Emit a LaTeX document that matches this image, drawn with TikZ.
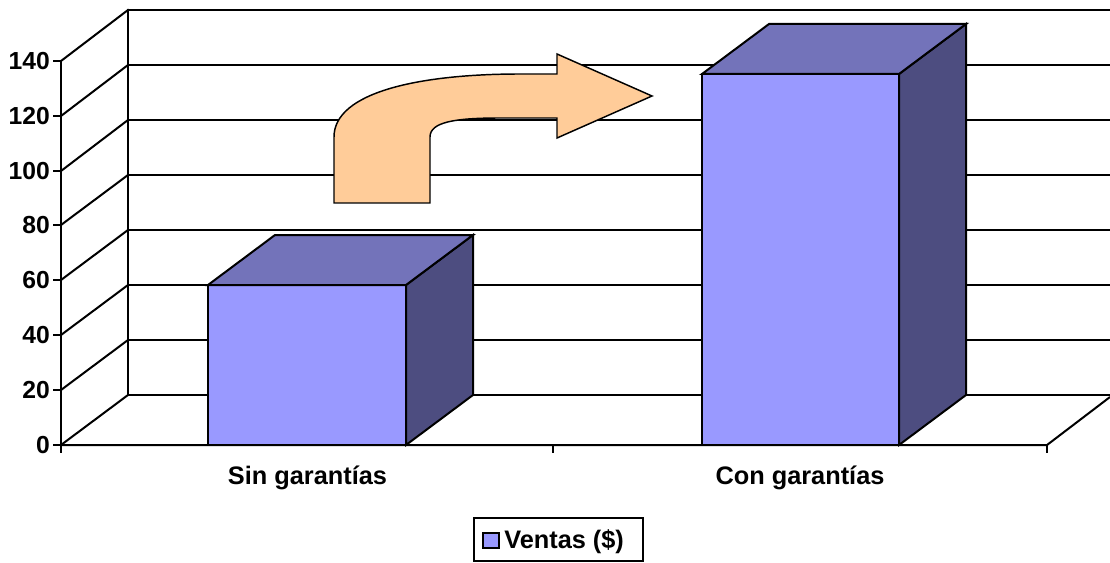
\documentclass[tikz,border=0pt]{standalone}
\usepackage{fontspec}
\setmainfont{Liberation Sans}
\definecolor{barfront}{HTML}{9999FF}
\definecolor{bartop}{HTML}{7373BA}
\definecolor{barside}{HTML}{4D4D80}
\definecolor{arrowfill}{HTML}{FFCC99}
\tikzset{
  grid/.style={line width=1.5pt, line cap=rect},
  axisline/.style={line width=1.5pt},
  barface/.style={draw=black, line width=1.5pt, line join=miter},
  lbl/.style={font=\fontsize{18.5}{20}\selectfont\bfseries, inner sep=0pt},
  catlbl/.style={font=\fontsize{19}{21}\selectfont\bfseries, inner sep=0pt},
}
\begin{document}
\begin{tikzpicture}[x=0.75pt,y=-0.75pt]
\useasboundingbox (0,0) rectangle (1110,563);
% back wall horizontal gridlines and left wall diagonals
\foreach \k/\yf/\yb in {0/445/395,1/390/340,2/335/285,3/280/230,4/225/175,5/171/120,6/116/65,7/61/10}{
  \draw[grid] (128,\yb) -- (1110,\yb);
  \draw[grid] (61,\yf) -- (128,\yb);
  \draw[axisline] (53,\yf) -- (61,\yf);
}
% back wall vertical
\draw[grid] (128,10) -- (128,395);
% left axis
\draw[axisline] (61,61) -- (61,445);
% floor front edge and right diagonal
\draw[axisline] (61,445) -- (1047,445) -- (1110,397);
% bottom ticks
\foreach \xx in {61,553,1047}{ \draw[axisline] (\xx,445) -- (\xx,453); }
% y labels
\foreach \k/\yf/\t in {0/445/0,1/390/20,2/335/40,3/280/60,4/225/80,5/171/100,6/116/120,7/61/140}{
  \node[lbl, anchor=east] (y\k) at (50,\yf) {\t};
}
% bar 1
\fill[barfront] (208,445) rectangle (406,285);
\filldraw[barface, fill=barside] (406,445) -- (473,395) -- (473,235) -- (406,285) -- cycle;
\filldraw[barface, fill=bartop] (208,285) -- (275,235) -- (473,235) -- (406,285) -- cycle;
\draw[barface] (208,445) rectangle (406,285);
% bar 2
\fill[barfront] (702,445) rectangle (899,74);
\filldraw[barface, fill=barside] (899,445) -- (966,395) -- (966,24) -- (899,74) -- cycle;
\filldraw[barface, fill=bartop] (702,74) -- (769,24) -- (966,24) -- (899,74) -- cycle;
\draw[barface] (702,445) rectangle (899,74);
% curved arrow
\filldraw[fill=arrowfill, draw=black, line width=1.1pt, line join=miter]
  (334,203) -- (334,137) .. controls (334,92) and (420,74) .. (520,74)
  -- (557,74) -- (557,54) -- (652,96) -- (557,138) -- (557,118) -- (500,118)
  .. controls (455,118) and (430,122) .. (430,137) -- (430,203) -- cycle;
% category labels
\node[catlbl, anchor=base] (c1) at (307.5,484) {Sin garantías};
\node[catlbl, anchor=base] (c2) at (800,484) {Con garantías};
% legend
\draw[line width=1.5pt] (474,518) rectangle (643,561);
\filldraw[fill=barfront, draw=black, line width=1.3pt] (483,533) rectangle (499,548);
\node[catlbl, anchor=base west] (leg) at (504,548) {Ventas (\$)};
\end{tikzpicture}
\end{document}
